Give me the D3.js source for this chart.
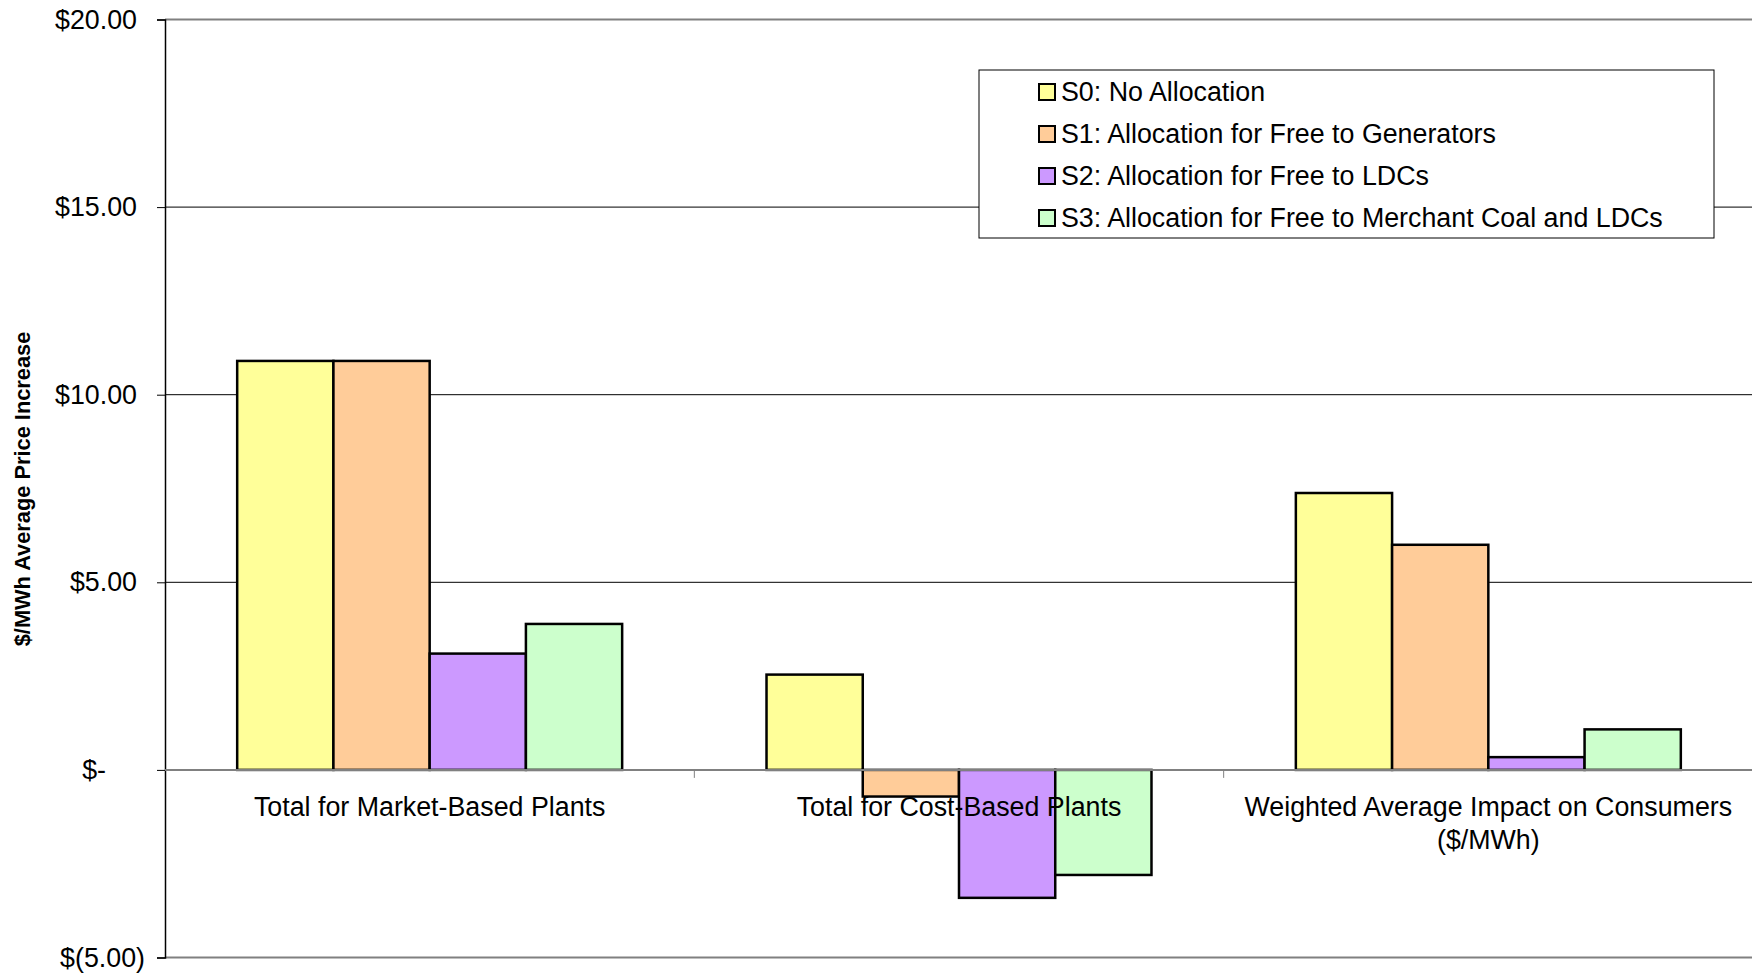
<!DOCTYPE html>
<html>
<head>
<meta charset="utf-8">
<script src="https://cdn.jsdelivr.net/npm/d3@7"></script>
<style>
body { margin: 0; background: #fff; }
svg { display: block; font-family: "Liberation Sans", Arial, sans-serif; }
</style>
</head>
<body>
<script>
var categories = ["Total for Market-Based Plants", "Total for Cost-Based Plants", "Weighted Average Impact on Consumers ($/MWh)"];
var categoryLines = [["Total for Market-Based Plants"], ["Total for Cost-Based Plants"], ["Weighted Average Impact on Consumers", "($/MWh)"]];
var seriesNames = ["S0: No Allocation", "S1: Allocation for Free to Generators", "S2: Allocation for Free to LDCs", "S3: Allocation for Free to Merchant Coal and LDCs"];
var seriesColors = ["#FFFF99", "#FFCC99", "#CC99FF", "#CCFFCC"];
var s0 = [10.9, 2.54, 7.38];
var s1 = [10.9, -0.71, 6.0];
var s2 = [3.1, -3.41, 0.34];
var s3 = [3.89, -2.8, 1.08];
var yTicks = [-5, 0, 5, 10, 15, 20];
var yTitle = "$/MWh Average Price Increase";

var series = [s0, s1, s2, s3];
var W = 1752, H = 974;
var plotL = 165, plotR = 1753, plotT = 19.5, plotB = 957.5;
var fs = 26.8;

var svg = d3.select("body").append("svg")
	.attr("width", W)
	.attr("height", H);

var x = d3.scaleBand()
	.domain(categories)
	.range([plotL, plotR])
	.paddingInner(1.5 / 5.5)
	.paddingOuter(0.75 / 5.5);

var xs = d3.scaleBand()
	.domain(d3.range(series.length))
	.range([0, x.bandwidth()]);

var y = d3.scaleLinear()
	.domain([-5, 20])
	.range([plotB, plotT]);

function money(v) {
	if (v === 0) return "$-";
	if (v < 0) return "$(" + d3.format(".2f")(-v) + ")";
	return "$" + d3.format(".2f")(v);
}

// gridlines (inner ones black, border ones gray)
svg.append("g").selectAll("line")
	.data(yTicks.filter(function (d) { return d !== 0 && d !== -5 && d !== 20; }))
	.join("line")
	.attr("x1", plotL).attr("x2", plotR)
	.attr("y1", function (d) { return y(d); })
	.attr("y2", function (d) { return y(d); })
	.attr("stroke", "#000")
	.attr("stroke-width", 1);

svg.append("g").selectAll("line")
	.data([20, -5])
	.join("line")
	.attr("x1", plotL).attr("x2", plotR)
	.attr("y1", function (d) { return y(d); })
	.attr("y2", function (d) { return y(d); })
	.attr("stroke", "#808080")
	.attr("stroke-width", 2);

// y axis
var yAxis = d3.axisLeft(y)
	.tickValues(yTicks)
	.tickSize(8)
	.tickPadding(20)
	.tickFormat(money);

var gy = svg.append("g")
	.attr("transform", "translate(" + plotL + ",0)")
	.call(yAxis);
gy.select(".domain").attr("stroke", "#000").attr("stroke-width", 1.5);
gy.selectAll(".tick line").attr("stroke", "#000");
gy.selectAll(".tick text")
	.attr("font-size", fs)
	.attr("font-family", "Liberation Sans, Arial, sans-serif")
	.attr("fill", "#000")
	.attr("dx", function (d) { return d === 0 ? -31 : (d < 0 ? 8 : 0); });

// bars
var groups = svg.append("g").selectAll("g")
	.data(categories)
	.join("g")
	.attr("transform", function (d) { return "translate(" + x(d) + ",0)"; });

groups.selectAll("rect")
	.data(function (d, i) { return series.map(function (s, k) { return { k: k, v: s[i] }; }); })
	.join("rect")
	.attr("x", function (d) { return xs(d.k); })
	.attr("width", xs.bandwidth())
	.attr("y", function (d) { return y(Math.max(0, d.v)); })
	.attr("height", function (d) { return Math.abs(y(d.v) - y(0)); })
	.attr("fill", function (d) { return seriesColors[d.k]; })
	.attr("stroke", "#000")
	.attr("stroke-width", 2.5);

// zero axis line + category ticks
svg.append("line")
	.attr("x1", plotL).attr("x2", plotR)
	.attr("y1", y(0)).attr("y2", y(0))
	.attr("stroke", "#808080")
	.attr("stroke-width", 2);

var step = x.step();
svg.append("g").selectAll("line")
	.data(categories.slice(0, categories.length - 1))
	.join("line")
	.attr("x1", function (d) { return x(d) + x.bandwidth() + (step - x.bandwidth()) / 2; })
	.attr("x2", function (d) { return x(d) + x.bandwidth() + (step - x.bandwidth()) / 2; })
	.attr("y1", y(0)).attr("y2", y(0) + 8)
	.attr("stroke", "#808080")
	.attr("stroke-width", 1);

// category labels, drawn over the bars
svg.append("g").selectAll("text")
	.data(categories)
	.join("text")
	.attr("x", function (d) { return x(d) + x.bandwidth() / 2; })
	.attr("y", y(0) + 46)
	.attr("text-anchor", "middle")
	.attr("font-size", fs)
	.attr("fill", "#000")
	.each(function (d, i) {
		var t = d3.select(this);
		categoryLines[i].forEach(function (line, j) {
			t.append("tspan")
				.attr("x", x(d) + x.bandwidth() / 2)
				.attr("dy", j === 0 ? 0 : 33)
				.text(line);
		});
	});

// y title
svg.append("text")
	.attr("transform", "translate(30,489) rotate(-90)")
	.attr("text-anchor", "middle")
	.attr("font-size", 21.8)
	.attr("font-weight", "bold")
	.attr("fill", "#000")
	.text(yTitle);

// legend
var legend = svg.append("g").attr("transform", "translate(979,70)");
legend.append("rect")
	.attr("width", 735)
	.attr("height", 168)
	.attr("fill", "#fff")
	.attr("stroke", "#000")
	.attr("stroke-width", 1);

var items = legend.selectAll("g.item")
	.data(seriesNames)
	.join("g")
	.attr("class", "item")
	.attr("transform", function (d, i) { return "translate(0," + (22 + i * 42) + ")"; });

items.append("rect")
	.attr("x", 60)
	.attr("y", -8)
	.attr("width", 16)
	.attr("height", 16)
	.attr("fill", function (d, i) { return seriesColors[i]; })
	.attr("stroke", "#000")
	.attr("stroke-width", 2);

items.append("text")
	.attr("x", 82)
	.attr("y", 9)
	.attr("font-size", fs)
	.attr("fill", "#000")
	.text(function (d) { return d; });
</script>
</body>
</html>
